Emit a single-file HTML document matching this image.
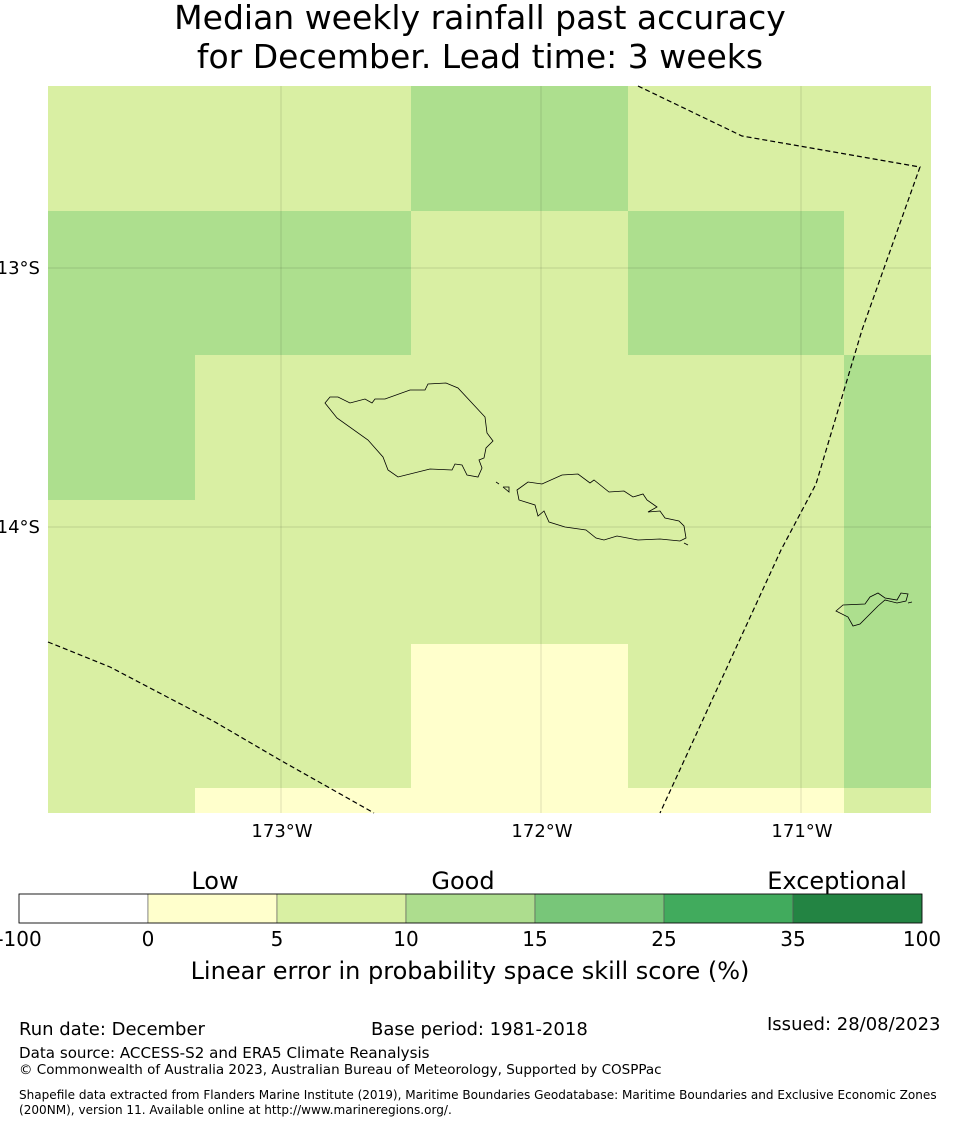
<!DOCTYPE html>
<html><head><meta charset="utf-8">
<style>
body{margin:0;background:#fff;width:960px;height:1125px;overflow:hidden;font-family:"DejaVu Sans","Liberation Sans",sans-serif;}
</style></head>
<body>
<svg width="960" height="1125" viewBox="0 0 960 1125" xmlns="http://www.w3.org/2000/svg" font-family="DejaVu Sans, Liberation Sans, sans-serif">
<text x="480" y="29" font-size="33" text-anchor="middle">Median weekly rainfall past accuracy</text>
<text x="480" y="68" font-size="33" text-anchor="middle">for December. Lead time: 3 weeks</text>
<g id="cells"></g>
<g id="gridlines"></g>
<g fill="none" stroke="#000" stroke-width="1.2" stroke-dasharray="5,3">
<polyline points="638,86 742,136 920,167 862,330 816,484 781,550 660,813"/>
<polyline points="48,642 110,667 150,688 215,722 280,760 374,813"/>
</g>
<g fill="none" stroke="#000" stroke-width="0.8">
<polygon points="325,403 330,397 338,397 350,403 365,399 372,403 375,399 385,399 410,390 425,390 428,384 446,383 458,388 485,417 487,433 493,441 486,448 484,458 479,460 482,468 478,477 467,475 462,465 455,464 452,470 430,469 398,477 388,470 383,457 368,440 337,418"/>
<polygon points="517,490 528,482 542,484 562,475 578,474 590,483 594,480 609,492 624,491 633,497 643,494 647,500 657,507 648,512 660,511 665,518 679,521 684,526 686,538 680,541 660,539 638,540 617,536 604,540 596,538 586,530 565,527 549,522 544,511 538,516 535,505 519,500"/>
<polyline points="496,482 499,484"/><polyline points="503,487 509,487 509,492 503,487"/><polyline points="684,543 688,545"/>
<polygon points="836,611 843,605 865,604 870,597 878,593 885,598 897,600 901,593 908,594 906,601 897,603 885,600 878,606 872,612 860,624 853,626 848,617"/>
<polyline points="908,603 912,602"/>
</g>
<g font-size="18">
<text x="40" y="274" text-anchor="end">13°S</text>
<text x="40" y="533" text-anchor="end">14°S</text>
<text x="282" y="837" text-anchor="middle">173°W</text>
<text x="542" y="837" text-anchor="middle">172°W</text>
<text x="802" y="837" text-anchor="middle">171°W</text>
</g>
<g>
<text x="215" y="889" font-size="24" text-anchor="middle">Low</text>
<text x="463" y="889" font-size="24" text-anchor="middle">Good</text>
<text x="837" y="889" font-size="24" text-anchor="middle">Exceptional</text>
<g id="cbar"></g>
<text x="470" y="979" font-size="24" text-anchor="middle">Linear error in probability space skill score (%)</text>
</g>
<g font-size="18">
<text x="19" y="1035">Run date: December</text>
<text x="371" y="1035">Base period: 1981-2018</text>
<text x="767" y="1030">Issued: 28/08/2023</text>
<text x="19" y="1058" font-size="15.1">Data source: ACCESS-S2 and ERA5 Climate Reanalysis</text>
<text x="19" y="1074" font-size="13.5">© Commonwealth of Australia 2023, Australian Bureau of Meteorology, Supported by COSPPac</text>
<text x="19" y="1099" font-size="12.05">Shapefile data extracted from Flanders Marine Institute (2019), Maritime Boundaries Geodatabase: Maritime Boundaries and Exclusive Economic Zones</text>
<text x="19" y="1114" font-size="12.05">(200NM), version 11. Available online at http://www.marineregions.org/.</text>
</g>
</svg>
<script>
const colEdges=[48,195,411,628,844,931];
const rowEdges=[86,211,355,500,644,788,813];
// skill class per cell: 0=Y(0-5),1=L(5-10),2=M(10-15)
const row0=[1,1,2,1,1];
const row1=[2,2,1,2,1];
const row2=[2,1,1,1,2];
const row3=[1,1,1,1,2];
const row4=[1,1,0,1,2];
const row5=[1,0,0,0,1];
const rows=[row0,row1,row2,row3,row4,row5];
const classColors=["#ffffcc","#d9efa3","#addf8e"];
const cbTicks=["-100","0","5","10","15","25","35","100"];
const cbColors=["#ffffff","#ffffcc","#d9f0a3","#addd8e","#78c679","#41ab5d","#238443"];
const NS="http://www.w3.org/2000/svg";
const cells=document.getElementById('cells');
rows.forEach((r,i)=>r.forEach((v,j)=>{
 const e=document.createElementNS(NS,'rect');
 e.setAttribute('x',colEdges[j]);e.setAttribute('y',rowEdges[i]);
 e.setAttribute('width',colEdges[j+1]-colEdges[j]);e.setAttribute('height',rowEdges[i+1]-rowEdges[i]);
 e.setAttribute('fill',classColors[v]);
 
 
 cells.appendChild(e);
}));
const gl=document.getElementById('gridlines');
[281,541,801].forEach(x=>{const l=document.createElementNS(NS,'line');l.setAttribute('x1',x);l.setAttribute('x2',x);l.setAttribute('y1',86);l.setAttribute('y2',813);l.setAttribute('stroke','#000');l.setAttribute('stroke-opacity','0.25');l.setAttribute('stroke-width','0.5');


gl.appendChild(l);});
[268,527].forEach(y=>{const l=document.createElementNS(NS,'line');l.setAttribute('x1',48);l.setAttribute('x2',931);l.setAttribute('y1',y);l.setAttribute('y2',y);l.setAttribute('stroke','#000');l.setAttribute('stroke-opacity','0.25');l.setAttribute('stroke-width','0.5');


gl.appendChild(l);});
const cb=document.getElementById('cbar');
const x0=19,w=129;
cbColors.forEach((c,i)=>{const e=document.createElementNS(NS,'rect');e.setAttribute('x',x0+i*w);e.setAttribute('y',894);e.setAttribute('width',w);e.setAttribute('height',29);e.setAttribute('fill',c);e.setAttribute('stroke','#555');e.setAttribute('stroke-width','0.6');


cb.appendChild(e);});
cbTicks.forEach((t,i)=>{const e=document.createElementNS(NS,'text');e.setAttribute('x',x0+i*w);e.setAttribute('y',946);e.setAttribute('font-size','20');e.setAttribute('text-anchor','middle');e.textContent=t;


cb.appendChild(e);});
const border=document.createElementNS(NS,'rect');border.setAttribute('x',19);border.setAttribute('y',894);border.setAttribute('width',903);border.setAttribute('height',29);border.setAttribute('fill','none');border.setAttribute('stroke','#000');border.setAttribute('stroke-width','0.8');


cb.appendChild(border);
</script>
</body></html>
